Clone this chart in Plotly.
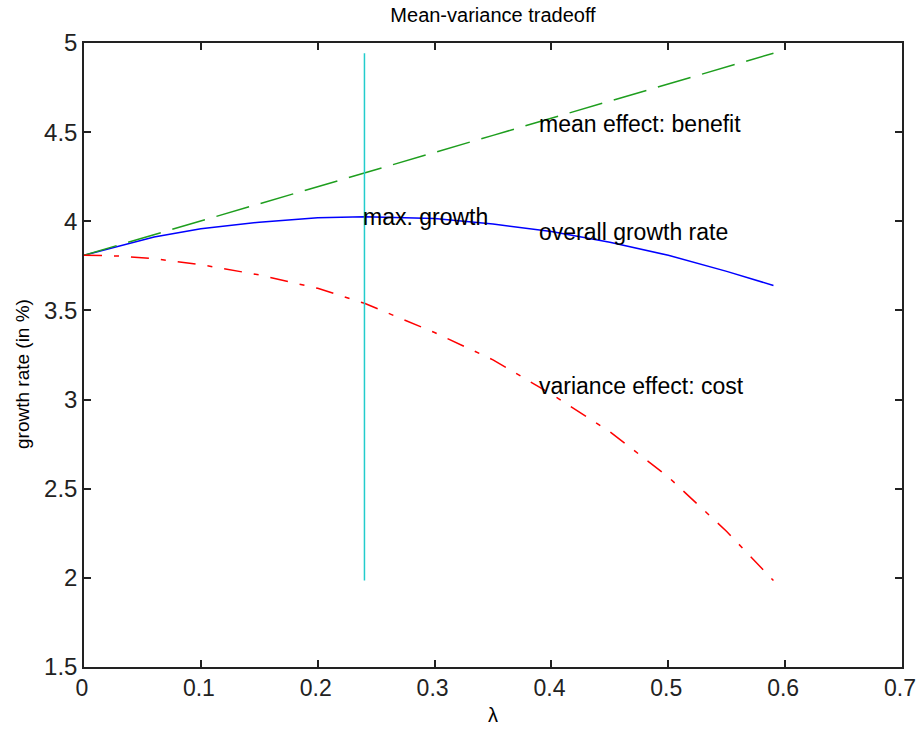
import plotly.graph_objects as go

# lambda grid (share of wealth in risky asset)
lam = [0, 0.03, 0.06, 0.1, 0.15, 0.2, 0.24, 0.3, 0.35, 0.4, 0.45, 0.5, 0.55, 0.59]
# mean effect: benefit (green dashed)
mean_effect = [3.81, 3.868, 3.925, 4.002, 4.098, 4.194, 4.271, 4.386, 4.482, 4.578, 4.674, 4.77, 4.866, 4.943]
# overall growth rate (blue solid)
overall = [3.81, 3.86, 3.912, 3.958, 3.995, 4.02, 4.026, 4.016, 3.985, 3.943, 3.883, 3.809, 3.719, 3.64]
# variance effect: cost (red dash-dot)
variance_effect = [3.81, 3.805, 3.79, 3.757, 3.699, 3.624, 3.54, 3.376, 3.223, 3.03, 2.82, 2.566, 2.26, 1.985]

lam_star = 0.24
max_growth = max(overall)

x_ticks = [0, 0.1, 0.2, 0.3, 0.4, 0.5, 0.6, 0.7]
x_ticklabels = ["0", "0.1", "0.2", "0.3", "0.4", "0.5", "0.6", "0.7"]
y_ticks = [1.5, 2, 2.5, 3, 3.5, 4, 4.5, 5]
y_ticklabels = ["1.5", "2", "2.5", "3", "3.5", "4", "4.5", "5"]

FONT = "Liberation Sans, Arial, sans-serif"
W, H = 917, 738
ML, MR, MT, MB = 84, 15, 43, 71
PW, PH = W - ML - MR, H - MT - MB

fig = go.Figure()
fig.add_trace(go.Scatter(x=lam, y=overall, mode="lines",
                         line=dict(color="#0000FF", width=1.5), showlegend=False))
fig.add_trace(go.Scatter(x=lam, y=mean_effect, mode="lines",
                         line=dict(color="#1E9E1E", width=1.5, dash="34px,12px"), showlegend=False))
fig.add_trace(go.Scatter(x=lam, y=variance_effect, mode="lines",
                         line=dict(color="#FF0000", width=1.5, dash="18px,12px,5px,12px"), showlegend=False))
fig.add_trace(go.Scatter(x=[lam_star, lam_star], y=[min(variance_effect), max(mean_effect)], mode="lines",
                         line=dict(color="#22CCCC", width=1.5), showlegend=False))

ann_font = dict(family=FONT, size=23, color="#000000")
annotations = [
    dict(x=lam_star, y=max_growth, text="max. growth"),
    dict(x=0.39, y=4.545, text="mean effect: benefit"),
    dict(x=0.39, y=3.94, text="overall growth rate"),
    dict(x=0.39, y=3.075, text="variance effect: cost"),
]
for a in annotations:
    fig.add_annotation(x=a["x"], y=a["y"], text=a["text"], xref="x", yref="y",
                       showarrow=False, xanchor="left", yanchor="middle", xshift=-3,
                       font=ann_font)

# y-axis label placed as rotated text (centre at pixel x=22, y=374)
fig.add_annotation(x=(22 - ML) / PW, y=(H - MB - 374) / PH, xref="paper", yref="paper",
                   text="growth rate (in %)", textangle=-90, showarrow=False,
                   xanchor="center", yanchor="middle",
                   font=dict(family=FONT, size=19, color="#000000"))

axis_common = dict(showline=True, linecolor="#222222", linewidth=1.5, mirror="ticks",
                   ticks="inside", ticklen=7, tickwidth=1.5, tickcolor="#222222",
                   showgrid=False, zeroline=False, ticklabeloverflow="allow",
                   automargin=False)

fig.update_layout(
    width=W, height=H,
    margin=dict(l=ML, r=MR, t=MT, b=MB, autoexpand=False),
    paper_bgcolor="white", plot_bgcolor="white",
    title=dict(text="Mean-variance tradeoff", x=493 / W, xanchor="center",
               y=1 - 15 / H, yanchor="middle", yref="container",
               font=dict(family=FONT, size=20, color="#000000")),
    xaxis=dict(range=[0, 0.7], tickvals=x_ticks, ticktext=x_ticklabels,
               ticklabelshift=-2,
               tickfont=dict(family=FONT, size=23, color="#222222"),
               title=dict(text="λ", font=dict(family=FONT, size=20, color="#000000"), standoff=8),
               **axis_common),
    yaxis=dict(range=[1.5, 5], tickvals=y_ticks, ticktext=y_ticklabels,
               tickfont=dict(family=FONT, size=24, color="#222222"),
               **axis_common),
)

fig.write_html("out.html")
